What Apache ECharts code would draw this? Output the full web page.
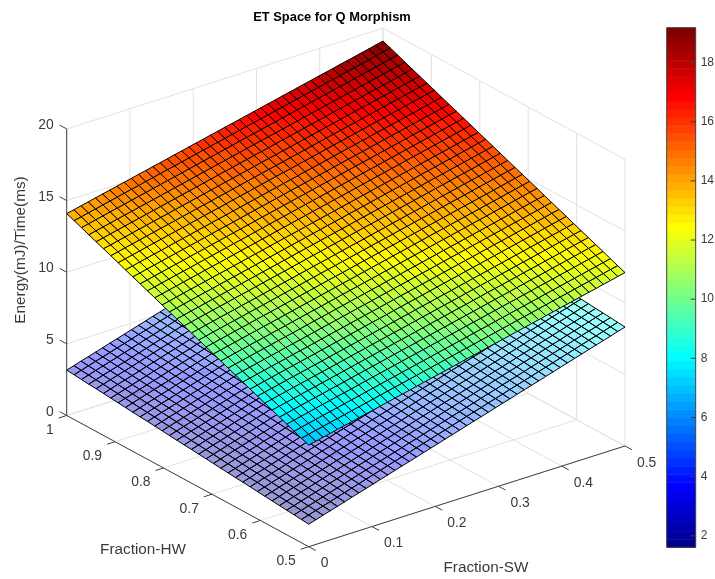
<!DOCTYPE html>
<html><head><meta charset="utf-8">
<style>html,body{margin:0;padding:0;background:#fff}#c{width:715px;height:579px}</style>
<script src="https://cdn.jsdelivr.net/npm/echarts@6/dist/echarts.min.js"></script>
</head><body><div id="c"></div>
<script>
const swValues=[0,0.0114,0.0227,0.0341,0.0455,0.0568,0.0682,0.0795,0.0909,0.1023,0.1136,0.125,0.1364,0.1477,0.1591,0.1705,0.1818,0.1932,0.2045,0.2159,0.2273,0.2386,0.25,0.2614,0.2727,0.2841,0.2955,0.3068,0.3182,0.3295,0.3409,0.3523,0.3636,0.375,0.3864,0.3977,0.4091,0.4205,0.4318,0.4432,0.4545,0.4659,0.4773,0.4886,0.5];
const hwValues=[0.5,0.5152,0.5303,0.5455,0.5606,0.5758,0.5909,0.6061,0.6212,0.6364,0.6515,0.6667,0.6818,0.697,0.7121,0.7273,0.7424,0.7576,0.7727,0.7879,0.803,0.8182,0.8333,0.8485,0.8636,0.8788,0.8939,0.9091,0.9242,0.9394,0.9545,0.9697,0.9848,1];
// Values estimated from the picture along the two front rims of each surface.
// Both surfaces are flat in the reference, so interior cells are composed from these rims.
const upperAlongSW=[7.09,7.20,7.32,7.43,7.55,7.66,7.77,7.89,8.00,8.11,8.23,8.34,8.46,8.57,8.68,8.80,8.91,9.03,9.14,9.25,9.37,9.48,9.60,9.71,9.82,9.94,10.05,10.16,10.28,10.39,10.51,10.62,10.73,10.85,10.96,11.08,11.19,11.30,11.42,11.53,11.64,11.76,11.87,11.99,12.10];
const upperAlongHW=[7.09,7.30,7.51,7.73,7.94,8.15,8.36,8.57,8.79,9.00,9.21,9.42,9.64,9.85,10.06,10.27,10.48,10.70,10.91,11.12,11.33,11.55,11.76,11.97,12.18,12.39,12.61,12.82,13.03,13.24,13.45,13.67,13.88,14.09];
const lowerAlongSW=[1.57,1.72,1.88,2.03,2.18,2.33,2.49,2.64,2.79,2.95,3.10,3.25,3.41,3.56,3.71,3.86,4.02,4.17,4.32,4.48,4.63,4.78,4.94,5.09,5.24,5.39,5.55,5.70,5.85,6.01,6.16,6.31,6.46,6.62,6.77,6.92,7.08,7.23,7.38,7.54,7.69,7.84,7.99,8.15,8.30];
const lowerAlongHW=[1.57,1.62,1.67,1.72,1.76,1.81,1.86,1.91,1.96,2.01,2.05,2.10,2.15,2.20,2.25,2.30,2.35,2.39,2.44,2.49,2.54,2.59,2.64,2.68,2.73,2.78,2.83,2.88,2.93,2.98,3.02,3.07,3.12,3.17];
const swTicks=[0,0.1,0.2,0.3,0.4,0.5];
const hwTicks=[0.5,0.6,0.7,0.8,0.9,1];
const zTicks=[0,5,10,15,20];
const colorbarTicks=[2,4,6,8,10,12,14,16,18];
const colorMin=1.61, colorMax=19.18;
const titleText='ET Space for Q Morphism';
const swLabel='Fraction-SW', hwLabel='Fraction-HW', zLabel='Energy(mJ)/Time(ms)';

const FONT='"Liberation Sans",Arial,sans-serif';
const INK='#3a3a3a';
// MATLAB jet(64)
const jet=(function(){
  const u=[];for(let k=1;k<=16;k++)u.push(k/16);for(let k=0;k<15;k++)u.push(1);for(let k=16;k>=1;k--)u.push(k/16);
  const at=(k,s)=>{const p=k-s;return p>=0&&p<u.length?u[p]:0;};
  const out=[];
  for(let k=1;k<=64;k++)out.push([at(k,25),at(k,9),at(k,-7)].map(v=>Math.round(v*255)));
  return out;
})();
const jetIndex=z=>Math.max(0,Math.min(63,Math.floor((z-colorMin)/(colorMax-colorMin)*64)));
const rgba=(c,a)=>`rgba(${c[0]},${c[1]},${c[2]},${a})`;

// Orthographic view: data (sw,hw,z) to the hidden plan axes.
const proj=(sw,hw,z)=>[
  (sw/0.5)*0.5665+(1-(hw-0.5)/0.5)*0.4335,
  (sw/0.5)*0.1943+((hw-0.5)/0.5)*0.2531+z*0.02764
];
function surfaceZ(alongSW,alongHW){
  return alongSW.map(a=>alongHW.map(b=>a+b-alongSW[0]));
}
function surfaceSeries(alongSW,alongHW,alpha){
  const Z=surfaceZ(alongSW,alongHW),cells=[];
  for(let i=0;i<swValues.length-1;i++)for(let j=0;j<hwValues.length-1;j++)cells.push([i,j]);
  return {type:'custom',coordinateSystem:'cartesian2d',xAxisIndex:0,yAxisIndex:0,silent:true,clip:false,animation:false,progressive:0,
    data:cells,
    renderItem(p,api){
      const i=api.value(0),j=api.value(1);
      const pts=[[i,j],[i+1,j],[i+1,j+1],[i,j+1]].map(n=>api.coord(proj(swValues[n[0]],hwValues[n[1]],Z[n[0]][n[1]])));
      return {type:'polygon',shape:{points:pts},style:{fill:rgba(jet[jetIndex(Z[i][j])],alpha),stroke:'#000',lineWidth:1}};
    }};
}
function lineSeries(segs,color,width){
  return {type:'custom',coordinateSystem:'cartesian2d',xAxisIndex:0,yAxisIndex:0,silent:true,clip:false,animation:false,progressive:0,
    data:segs,
    renderItem(p,api){
      const s=segs[p.dataIndex],a=api.coord(proj(s[0],s[1],s[2])),b=api.coord(proj(s[3],s[4],s[5]));
      return {type:'line',shape:{x1:a[0],y1:a[1],x2:b[0],y2:b[1]},style:{stroke:color,lineWidth:width}};
    }};
}
function labelSeries(items){
  return {type:'custom',coordinateSystem:'cartesian2d',xAxisIndex:0,yAxisIndex:0,silent:true,clip:false,animation:false,progressive:0,
    data:items,
    renderItem(p,api){
      const t=items[p.dataIndex],a=api.coord(proj(t.sw,t.hw,t.z));
      return {type:'text',style:{text:t.text,x:a[0]+t.dx,y:a[1]+t.dy,textAlign:t.align,textVerticalAlign:'middle',fontSize:13.9,fontFamily:FONT,fill:INK}};
    }};
}
const SWMIN=0,SWMAX=0.5,HWMIN=0.5,HWMAX=1,ZMAX=20;
const TICK_HW=0.0145,TICK_SW=0.0127;
const grid=[];
swTicks.forEach(s=>{grid.push([s,HWMIN,0,s,HWMAX,0],[s,HWMAX,0,s,HWMAX,ZMAX]);});
hwTicks.forEach(h=>{grid.push([SWMIN,h,0,SWMAX,h,0],[SWMAX,h,0,SWMAX,h,ZMAX]);});
zTicks.forEach(z=>{grid.push([SWMIN,HWMAX,z,SWMAX,HWMAX,z],[SWMAX,HWMIN,z,SWMAX,HWMAX,z]);});
const axes=[[SWMIN,HWMIN,0,SWMAX,HWMIN,0],[SWMIN,HWMIN,0,SWMIN,HWMAX,0],[SWMIN,HWMAX,0,SWMIN,HWMAX,ZMAX]];
swTicks.forEach(s=>axes.push([s,HWMIN,0,s,HWMIN-TICK_HW,0]));
hwTicks.forEach(h=>axes.push([SWMIN,h,0,SWMIN-TICK_SW,h,0]));
zTicks.forEach(z=>axes.push([SWMIN,HWMAX,z,SWMIN,HWMAX+TICK_HW,z]));
const labels=[];
swTicks.forEach(s=>labels.push({text:String(s),sw:s,hw:HWMIN-TICK_HW,z:0,dx:5,dy:13,align:'left'}));
hwTicks.forEach(h=>labels.push({text:String(h),sw:SWMIN-TICK_SW,hw:h,z:0,dx:-5,dy:12,align:'right'}));
zTicks.forEach(z=>labels.push({text:String(z),sw:SWMIN,hw:HWMAX+TICK_HW,z:z,dx:-6,dy:0,align:'right'}));

const bands=jet.map((c,k)=>k);
const chart=echarts.init(document.getElementById('c'),null,{renderer:'canvas'});
chart.setOption({
  animation:false,backgroundColor:'#fff',
  title:{text:titleText,left:327,top:6,textAlign:'center',textStyle:{fontFamily:FONT,fontSize:12.9,fontWeight:'bold',color:'#000'}},
  grid:[
    {left:66.7,top:28.3,width:558.3,height:518.4,outerBoundsMode:'none'},
    {left:666.7,top:27.7,width:29,height:519.6,outerBoundsMode:'none',show:true,borderColor:'#404040',borderWidth:1,backgroundColor:'transparent',z:5}
  ],
  xAxis:[
    {type:'value',gridIndex:0,min:0,max:1,show:false},
    {type:'value',gridIndex:1,min:0,max:1,show:false}
  ],
  yAxis:[
    {type:'value',gridIndex:0,min:0,max:1,show:false},
    {type:'value',gridIndex:1,min:colorMin,max:colorMax,position:'right',z:6,
      axisLine:{show:false},splitLine:{show:false},axisTick:{show:false},
      axisLabel:{show:true,customValues:colorbarTicks,margin:5,fontSize:12,fontFamily:FONT,color:INK}}
  ],
  series:[
    lineSeries(grid,'#e2e2e2',1),
    surfaceSeries(lowerAlongSW,lowerAlongHW,0.4),
    surfaceSeries(upperAlongSW,upperAlongHW,1),
    lineSeries(axes,'#404040',1),
    labelSeries(labels),
    {type:'custom',coordinateSystem:'cartesian2d',xAxisIndex:1,yAxisIndex:1,silent:true,animation:false,progressive:0,
      data:bands,
      renderItem(p,api){
        const k=p.dataIndex,h=(colorMax-colorMin)/64;
        const a=api.coord([0,colorMin+(k+1)*h]),b=api.coord([1,colorMin+k*h]);
        return {type:'rect',shape:{x:a[0],y:a[1],width:b[0]-a[0],height:b[1]-a[1]+0.5},style:{fill:rgba(jet[k],1)}};
      }},
    {type:'custom',coordinateSystem:'cartesian2d',xAxisIndex:1,yAxisIndex:1,silent:true,animation:false,progressive:0,z:7,
      data:colorbarTicks,
      renderItem(p,api){
        const a=api.coord([1,colorbarTicks[p.dataIndex]]);
        return {type:'line',shape:{x1:a[0]-5,y1:a[1],x2:a[0],y2:a[1]},style:{stroke:'#404040',lineWidth:1}};
      }}
  ],
  graphic:[
    {type:'text',x:143,y:550,style:{text:hwLabel,textAlign:'center',textVerticalAlign:'middle',fontSize:15.3,fontFamily:FONT,fill:INK}},
    {type:'text',x:486,y:568,style:{text:swLabel,textAlign:'center',textVerticalAlign:'middle',fontSize:15.3,fontFamily:FONT,fill:INK}},
    {type:'text',x:21,y:250,rotation:Math.PI/2,style:{text:zLabel,textAlign:'center',textVerticalAlign:'middle',fontSize:15.3,fontFamily:FONT,fill:INK}}
  ]
});
</script></body></html>
